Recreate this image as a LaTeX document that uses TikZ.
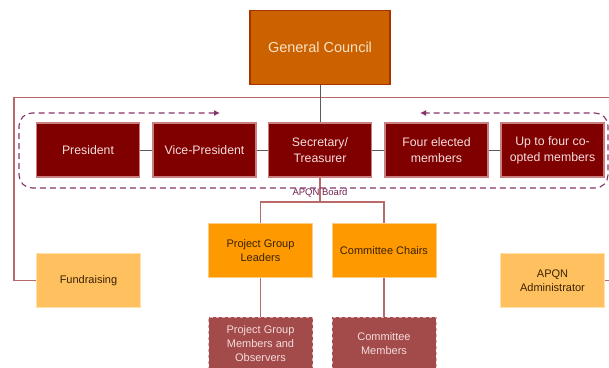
\documentclass[tikz,border=0pt]{standalone}
\usepackage{fontspec}
\setmainfont{Liberation Sans}
\usetikzlibrary{calc}
\usetikzlibrary{arrows.meta}

\definecolor{councilfill}{HTML}{CC6100}
\definecolor{councilline}{HTML}{A83300}
\definecolor{counciltext}{HTML}{F8E2C6}
\definecolor{boardfill}{HTML}{800000}
\definecolor{boardline}{HTML}{C88080}
\definecolor{boardtext}{HTML}{F4DEDE}
\definecolor{chairfill}{HTML}{FF9900}
\definecolor{chairline}{HTML}{FFCC88}
\definecolor{chairtext}{HTML}{3A2200}
\definecolor{supportfill}{HTML}{FFC060}
\definecolor{supportline}{HTML}{FFE0A8}
\definecolor{memberfill}{HTML}{A34A4A}
\definecolor{memberline}{HTML}{E0B0B0}
\definecolor{membertext}{HTML}{F6DCDC}
\definecolor{linkbrown}{HTML}{B86A6A}
\definecolor{tiegray}{HTML}{5A5A5A}
\definecolor{framecol}{HTML}{84346A}
\definecolor{labelcol}{HTML}{702050}

\tikzset{
  orgbox/.style={rectangle, inner sep=0pt, minimum width=103pt, minimum height=54pt, align=center},
  councilbox/.style={orgbox, fill=councilfill, draw=councilline, line width=1.6pt,
    minimum width=140pt, minimum height=74pt, text=counciltext, font=\fontsize{14.5}{17}\selectfont},
  boardbox/.style={orgbox, fill=boardfill, draw=boardline, line width=1.2pt,
    text=boardtext, font=\fontsize{12.3}{16}\selectfont},
  chairbox/.style={orgbox, fill=chairfill, draw=chairline, line width=0.6pt,
    minimum width=104pt, text=chairtext, font=\fontsize{11}{14}\selectfont},
  supportbox/.style={chairbox, fill=supportfill, draw=supportline},
  memberbox/.style={chairbox, fill=memberfill, draw=memberline, dashed, text=membertext},
  orglink/.style={draw=linkbrown, line width=1.1pt},
  orgtie/.style={draw=tiegray, line width=0.8pt},
  boardframe/.style={draw=framecol, line width=1.1pt, dash pattern=on 6pt off 4pt,
    rounded corners=13pt, {Latex[length=6pt,width=6pt]}-{Latex[length=6pt,width=6pt]}},
}

\begin{document}
\begin{tikzpicture}[x=1pt,y=-1pt]

    \useasboundingbox (0,0) rectangle (609,367);
    \clip (0,0) rectangle (609,367);

    \node (council) at (320,47.5) [councilbox] {General Council};

    % the board
    \node (pres) at (88,150) [boardbox] {President};
    \node (vice) at (204.5,150) [boardbox] {Vice-President};
    \node (secr) at (320,150) [boardbox] {Secretary/\\Treasurer};
    \node (elect) at (436.5,150) [boardbox] {Four elected\\members};
    \node (coopt) at (552.5,150) [boardbox] {Up to four co-\\opted members};

    \node (leaders) at (260.5,250.5) [chairbox] {Project Group\\Leaders};
    \node (chairs) at (384,250.5) [chairbox] {Committee Chairs};
    \node (fund) at (88.5,280.5) [supportbox] {Fundraising};
    \node (admin) at (552.5,280.5) [supportbox] {APQN\\Administrator};
    \node (groupmem) at (260.5,344) [memberbox] {Project Group\\Members and\\Observers};
    \node (commem) at (384,344) [memberbox] {Committee\\Members};

    \coordinate (leftup) at (14,97.5);
    \coordinate (rightup) at (625,97.5);
    \draw [orglink] (fund.west) -| (leftup) -- (rightup) |- (admin.east);

    \draw [orgtie] (council.south) -- (secr.north);
    \draw [orgtie] (pres.east) -- (vice.west);
    \draw [orgtie] (vice.east) -- (secr.west);
    \draw [orgtie] (secr.east) -- (elect.west);
    \draw [orgtie] (elect.east) -- (coopt.west);

    \coordinate (split) at (320,202);
    \draw [orglink] (secr.south) -- (split);
    \draw [orglink] (leaders.north) |- (split) -| (chairs.north);
    \draw [orglink] (leaders.south) -- (groupmem.north);
    \draw [orglink] (chairs.south) -- (commem.north);

    \draw [boardframe] (220,113) -- (19,113) -- (19,188) -- (608,188) -- (608,113) -- (420,113);
    \node (boardname) at (320,193) [text=labelcol, font=\fontsize{9.5}{11}\selectfont] {APQN Board};

\end{tikzpicture}
\end{document}
